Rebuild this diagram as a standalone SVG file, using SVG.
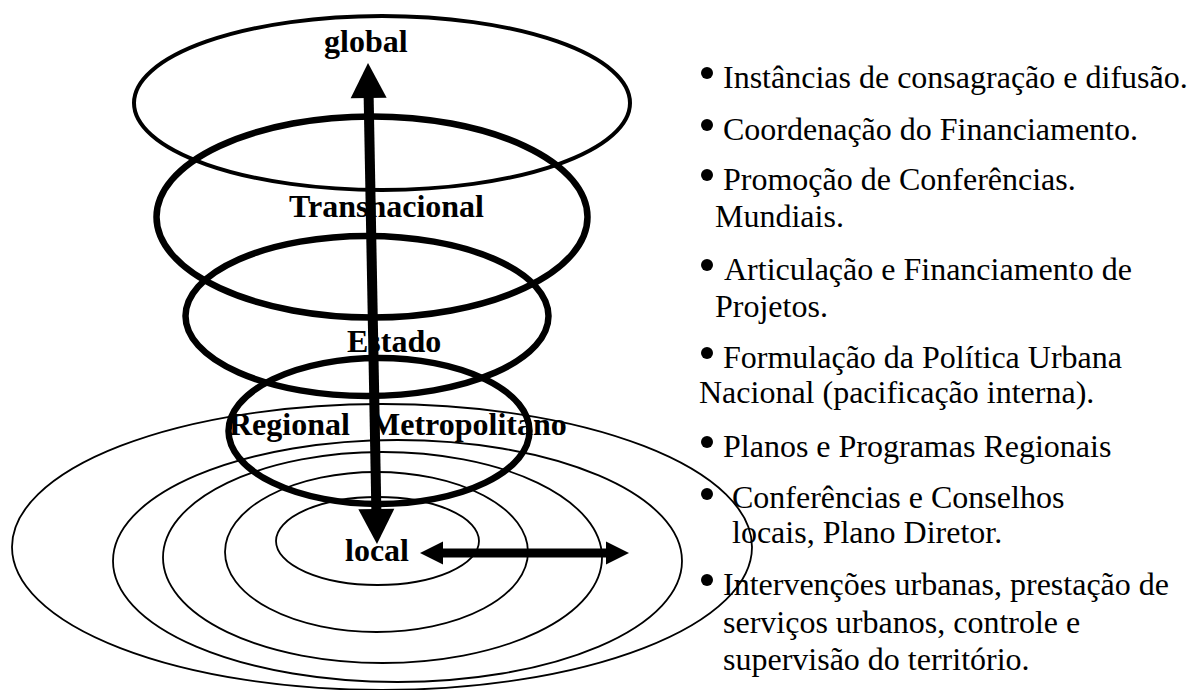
<svg xmlns="http://www.w3.org/2000/svg" width="1197" height="690" viewBox="0 0 1197 690">
<style>
.thin{fill:none;stroke:#000;stroke-width:1.8}
.ring{fill:none;stroke:#000;stroke-width:6.5}
.lbl{font-family:"Liberation Serif","Times New Roman",serif;font-weight:bold;font-size:32px;fill:#000}
.item{font-family:"Liberation Serif","Times New Roman",serif;font-size:32px;fill:#000}
.arrow{stroke:#000;fill:none}
</style>
<defs>
<marker id="headV" markerUnits="userSpaceOnUse" markerWidth="36" markerHeight="36" refX="1" refY="18" orient="auto-start-reverse" overflow="visible">
<path d="M0,0 L35,18 L0,36 Z" fill="#000"/>
</marker>
<marker id="headH" markerUnits="userSpaceOnUse" markerWidth="24" markerHeight="24" refX="1" refY="11.5" orient="auto-start-reverse" overflow="visible">
<path d="M0,0 L23,11.5 L0,23 Z" fill="#000"/>
</marker>
</defs>
<rect width="1197" height="690" fill="#fff"/>

<g id="local">
<ellipse class="thin" cx="382" cy="547" rx="370" ry="143"/>
<ellipse class="thin" cx="397.5" cy="561" rx="284.5" ry="121"/>
<ellipse class="thin" cx="382.5" cy="557.5" rx="219.5" ry="105.5"/>
<ellipse class="thin" cx="376.5" cy="552" rx="151.5" ry="80"/>
<ellipse class="thin" cx="377.5" cy="541" rx="101.5" ry="44"/>
<text class="lbl" x="345" y="561">local</text>
</g>

<g id="global">
<ellipse class="ring" style="stroke-width:4" cx="382" cy="103" rx="248" ry="87"/>
<text class="lbl" x="324" y="52">global</text>
</g>

<g id="transnacional">
<ellipse class="ring" cx="372" cy="217" rx="215.5" ry="100.5"/>
<text class="lbl" x="289" y="217">Transnacional</text>
</g>

<g id="estado">
<ellipse class="ring" cx="367" cy="316" rx="181.5" ry="80"/>
<text class="lbl" x="347" y="352">Estado</text>
</g>

<g id="regional-metropolitano">
<ellipse class="ring" cx="379" cy="431" rx="150.5" ry="73"/>
<text class="lbl" y="435"><tspan x="229">Regional</tspan><tspan x="370">Metropolitano</tspan></text>
</g>

<g id="lista">
<circle cx="707" cy="73" r="6"/>
<text class="item" x="723" y="88">Instâncias de consagração e difusão.</text>
<circle cx="707" cy="125" r="6"/>
<text class="item" x="723" y="140">Coordenação do Financiamento.</text>
<circle cx="707" cy="175" r="6"/>
<text class="item" x="723" y="190">Promoção de Conferências.</text>
<text class="item" x="715" y="227">Mundiais.</text>
<circle cx="707" cy="265" r="6"/>
<text class="item" x="724" y="280">Articulação e Financiamento de</text>
<text class="item" x="715" y="317">Projetos.</text>
<circle cx="707" cy="353" r="6"/>
<text class="item" x="723" y="368">Formulação da Política Urbana</text>
<text class="item" x="699" y="403">Nacional (pacificação interna).</text>
<circle cx="707" cy="442" r="6"/>
<text class="item" x="723" y="457">Planos e Programas Regionais</text>
<circle cx="707" cy="494" r="6"/>
<text class="item" x="732" y="508">Conferências e Conselhos</text>
<text class="item" x="732" y="543">locais, Plano Diretor.</text>
<circle cx="707" cy="580" r="6"/>
<text class="item" x="723" y="595">Intervenções urbanas, prestação de</text>
<text class="item" x="723" y="633">serviços urbanos, controle e</text>
<text class="item" x="723" y="670">supervisão do território.</text>
</g>

<g id="connectors">
<line class="arrow" x1="368.65" y1="97" x2="376.35" y2="510" stroke-width="10" marker-start="url(#headV)" marker-end="url(#headV)"/>
<line class="arrow" x1="442" y1="553" x2="607" y2="553" stroke-width="9" marker-start="url(#headH)" marker-end="url(#headH)"/>
</g>
</svg>
